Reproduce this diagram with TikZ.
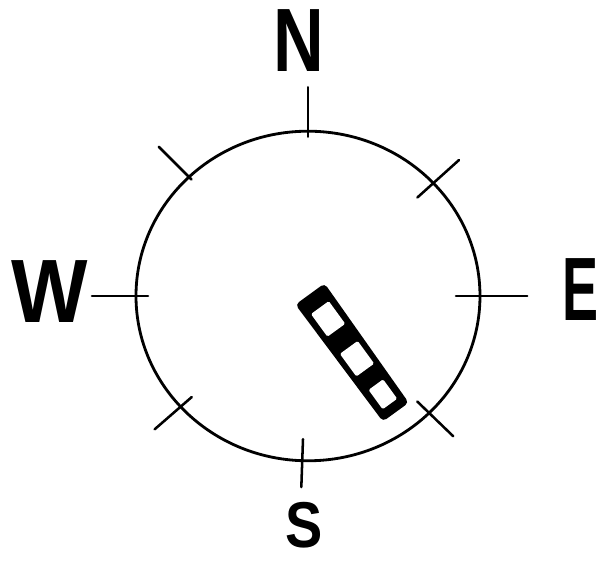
\documentclass[tikz,border=0pt]{standalone}
\usepackage{fontspec}
\newfontfamily\compassfont{Liberation Sans}
\tikzset{
  letter/.style={font=\compassfont\bfseries\fontsize{64}{64}\selectfont, inner sep=0pt},
  tick/.style={line width=1.8pt, line cap=round},
}
\begin{document}
\begin{tikzpicture}
	\useasboundingbox (-7.7,-6.75) rectangle (7.325,7.4);
	\draw[line width=2pt] (0,0) ellipse [x radius=4.3, y radius=4.12];
	\foreach \a/\ri/\ro in {90/3.98/5.22, 0/3.7/5.48, 268/3.58/4.78, 180/4/5.4, 42/3.68/5.08, 135/4.12/5.28, 221/3.85/5.08, 316/3.8/5.05}
		\draw[tick] (\a:\ri)--(\a:\ro);
	\node[letter, xscale=.78] (north) at (-0.22,6.38) {N};
	\node[letter, xscale=.9] (west) at (-6.46,0.11) {W};
	\node[letter, xscale=.6, anchor=west] (east) at (6.35,0.17) {E};
	\node[letter, xscale=.62, yscale=.72, anchor=north] (south) at (-0.1,-5.15) {S};
	\begin{scope}[shift={(0.05,0.05)}, rotate=-54]
		\fill[rounded corners=3pt] (0,0.45)--(3.65,0.4)--(3.65,-0.4)--(0,-0.45)--cycle;
		\foreach \u/\l/\w in {0.77/0.7/0.55, 2.0/0.7/0.55, 3.1/0.6/0.45}
			\fill[white, rounded corners=1pt] (\u-\l/2,-\w/2) rectangle (\u+\l/2,\w/2);
	\end{scope}
\end{tikzpicture}
\end{document}
